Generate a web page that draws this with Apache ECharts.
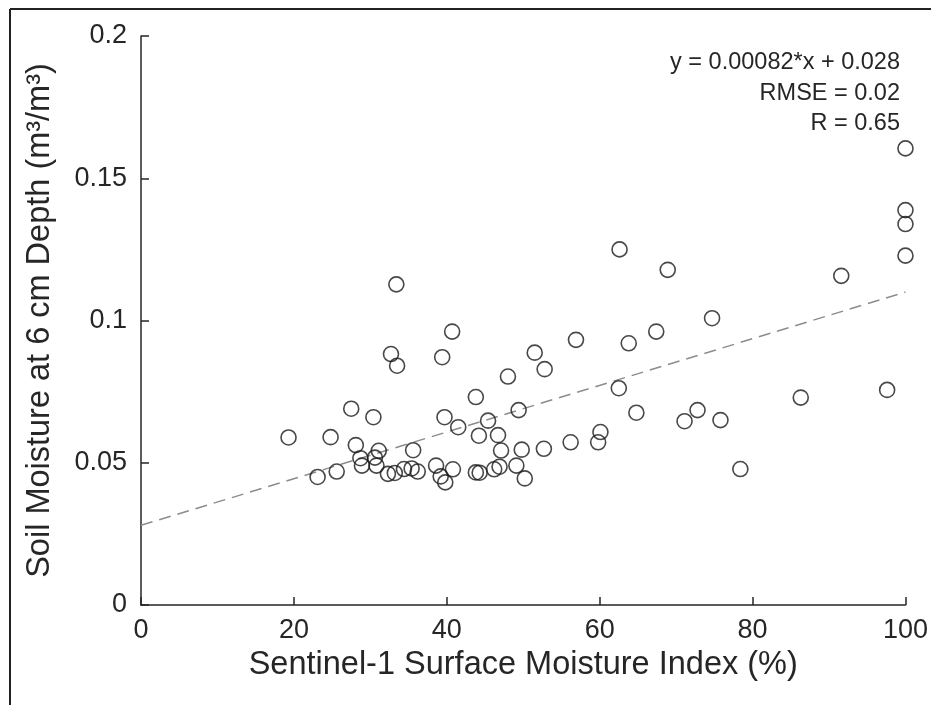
<!DOCTYPE html>
<html>
<head>
<meta charset="utf-8">
<script src="https://cdn.jsdelivr.net/npm/echarts@6/dist/echarts.min.js"></script>
<style>
  html, body { margin: 0; padding: 0; background: #fff; }
  #chart { width: 931px; height: 705px; }
</style>
</head>
<body>
<div id="chart"></div>
<script>
// Sentinel-1 surface moisture index (%)
const smiValues = [
  19.3, 23.1, 24.8, 25.6, 27.5, 28.1, 28.7, 28.9, 30.4, 30.6,
  30.8, 31.1, 32.3, 32.7, 33.2, 33.4, 33.5, 34.4, 35.4, 35.6,
  36.2, 38.6, 39.2, 39.4, 39.7, 39.8, 40.7, 40.8, 41.5, 43.8,
  43.8, 44.2, 44.3, 45.4, 46.2, 46.7, 46.9, 47.1, 48.0, 49.1,
  49.4, 49.8, 50.2, 51.5, 52.8, 52.7, 56.2, 56.9, 59.8, 60.1,
  62.5, 62.6, 63.8, 64.8, 67.4, 68.9, 71.1, 72.8, 74.7, 75.8,
  78.4, 86.3, 91.6, 97.6, 100, 100, 100, 100
];
// Soil moisture at 6 cm depth (m3/m3)
const soilMoisture = [
  0.0589, 0.0450, 0.0590, 0.0469, 0.0690, 0.0562, 0.0516, 0.0490, 0.0660, 0.0518,
  0.0490, 0.0542, 0.0461, 0.0882, 0.0464, 0.1127, 0.0841, 0.0478, 0.0480, 0.0544,
  0.0469, 0.0490, 0.0452, 0.0871, 0.0660, 0.0431, 0.0961, 0.0477, 0.0625, 0.0731,
  0.0466, 0.0595, 0.0465, 0.0648, 0.0477, 0.0597, 0.0486, 0.0543, 0.0803, 0.0490,
  0.0685, 0.0546, 0.0445, 0.0887, 0.0829, 0.0549, 0.0572, 0.0932, 0.0572, 0.0608,
  0.0762, 0.1250, 0.0920, 0.0676, 0.0961, 0.1178, 0.0646, 0.0685, 0.1008, 0.0650,
  0.0478, 0.0729, 0.1157, 0.0756, 0.1605, 0.1388, 0.1339, 0.1228
];
// Fitted line endpoints (y = 0.00082*x + 0.028)
const fitX = [0, 100];
const fitY = [0.028, 0.110];
// Annotation lines
const statsLines = ['y = 0.00082*x + 0.028', 'RMSE = 0.02', 'R = 0.65'];
const xTicks = [0, 20, 40, 60, 80, 100];
const yTicks = [0, 0.05, 0.1, 0.15, 0.2];

const scatterData = smiValues.map((x, i) => [x, soilMoisture[i]]);
const fitData = fitX.map((x, i) => [x, fitY[i]]);

const textColor = '#262626';
const fontFam = 'Liberation Sans, Arial, Helvetica, sans-serif';

const chart = echarts.init(document.getElementById('chart'), null, { renderer: 'canvas' });
chart.setOption({
  animation: false,
  backgroundColor: '#ffffff',
  grid: { left: 141, right: 22, top: 36, bottom: 100, containLabel: false },
  xAxis: {
    type: 'value',
    min: xTicks[0], max: xTicks[xTicks.length - 1], interval: 20,
    name: 'Sentinel-1 Surface Moisture Index (%)',
    nameLocation: 'middle', nameGap: 31,
    nameTextStyle: { color: textColor, fontSize: 32.5, fontFamily: fontFam },
    axisLine: { show: true, onZero: false, lineStyle: { color: textColor, width: 1.5 } },
    axisTick: { show: true, inside: true, length: 8, lineStyle: { color: textColor, width: 1.5 } },
    axisLabel: { color: textColor, fontSize: 27, fontFamily: fontFam, margin: 12 },
    splitLine: { show: false }
  },
  yAxis: {
    type: 'value',
    min: yTicks[0], max: yTicks[yTicks.length - 1], interval: 0.05,
    name: 'Soil Moisture at 6 cm Depth (m³/m³)',
    nameLocation: 'middle', nameGap: 84,
    nameTextStyle: { color: textColor, fontSize: 32.5, fontFamily: fontFam },
    axisLine: { show: true, onZero: false, lineStyle: { color: textColor, width: 1.5 } },
    axisTick: { show: true, inside: true, length: 8, lineStyle: { color: textColor, width: 1.5 } },
    axisLabel: { color: textColor, fontSize: 27, fontFamily: fontFam, margin: 14 },
    splitLine: { show: false }
  },
  series: [
    {
      type: 'line',
      data: fitData,
      symbol: 'none',
      lineStyle: { color: '#8c8c8c', width: 1.5, type: [12, 7] },
      z: 1
    },
    {
      type: 'scatter',
      data: scatterData,
      symbol: 'circle',
      symbolSize: 15,
      itemStyle: { color: 'rgba(0,0,0,0)', borderColor: '#1a1a1a', borderWidth: 1.6 },
      z: 2
    }
  ],
  graphic: [
    { type: 'line', shape: { x1: 10, y1: 9, x2: 931, y2: 9 }, style: { stroke: '#222', lineWidth: 2 } },
    { type: 'line', shape: { x1: 10, y1: 9, x2: 10, y2: 705 }, style: { stroke: '#222', lineWidth: 2 } },
    {
      type: 'group', right: 31, top: 51,
      children: statsLines.map((t, i) => ({
        type: 'text', right: 0, top: i * 30.5,
        style: { text: t, fill: textColor, font: '23.5px ' + fontFam, textAlign: 'right' }
      }))
    }
  ]
});
</script>
</body>
</html>
